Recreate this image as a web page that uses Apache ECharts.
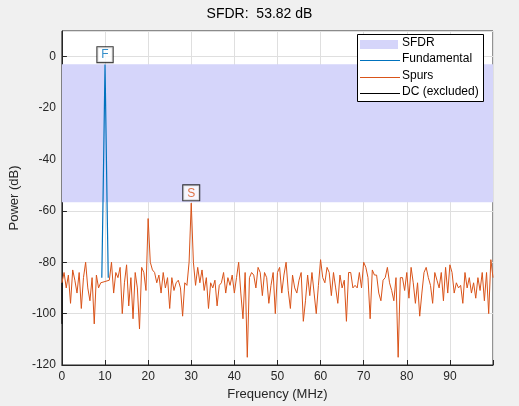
<!DOCTYPE html>
<html>
<head>
<meta charset="UTF-8">
<script src="https://cdn.jsdelivr.net/npm/echarts@6/dist/echarts.min.js"></script>
</head>
<body style="margin:0;background:#f0f0f0">
<div id="main" style="width:519px;height:406px;"></div>
<script>
// spur spectrum, 0.5 MHz bins starting at 0 MHz
var spurStep = 0.5;
var spurPower = [
  -88,-84,-90,-85,-96,-83,-87,-92,-84,-98,-86,-80,-90,-95,-86,-104,-85,-90,-88,-82,
  -84,
  -86,-87,-80,-92,-84,-86,-82,-100,-88,-81,-97,-86,-102,-84,-90,-106,-82,-84,-91,
  -63,-80,-83,-84,-88,-85,-92,-84,-90,-86,-98,-86,-91,-88,-87,-90,-101,-88,-89,-80,
  -57,-80,-89,-82,-88,-83,-91,-86,-98,-88,-90,-87,-97,-89,-88,-84,-92,-86,-89,-85,
  -92,-86,-80,-92,-102,-84,-117,-86,-84,-85,-90,-82,-84,-93,-84,-86,-96,-89,-84,-100,
  -84,-82,-92,-85,-80,-91,-98,-85,-90,-92,-87,-84,-103,-95,-85,-93,-84,-92,-100,-89,
  -79,-86,-88,-82,-84,-93,-84,-90,-96,-85,-90,-87,-103,-84,-84,-90,-89,-90,-84,-90,
  -80,-82,-86,-102,-83,-85,-85,-92,-95,-87,-86,-82,-88,-91,-95,-86,-117,-86,-86,-91,
  -84,-94,-82,-88,-96,-88,-101,-92,-84,-82,-86,-89,-96,-84,-87,-90,-84,-95,-82,-92,
  -81,-84,-92,-88,-90,-89,-96,-84,-90,-86,-92,-88,-94,-86,-91,-84,-95,-84,-100,-79,
  -86
];
var fundFreq = [9.25, 9.5, 10, 10.5, 10.75];
var fundPower = [-86, -60, -3, -60, -86];
var dcFreq = [0, 0];
var dcPower = [-88, -104];
var sfdrTop = -2.9, sfdrBottom = -56.7;
var fMark = [10, -2.9];
var sMark = [30, -56.7];

var spurData = spurPower.map(function (v, i) { return [i * spurStep, v]; });
// leave fundamental bins to the blue trace
spurData = spurData.filter(function (d) { return d[0] < 9.5 || d[0] > 10.5; });
var fundData = fundFreq.map(function (f, i) { return [f, fundPower[i]]; });
var dcData = dcFreq.map(function (f, i) { return [f, dcPower[i]]; });

var ff = 'Liberation Sans, Arial, sans-serif';
function box(t, c) {
  return { show: true, position: 'top', distance: 2, formatter: t, color: c, fontSize: 12, fontFamily: ff,
    backgroundColor: '#fff', borderColor: '#000', borderWidth: 1, padding: [2, 4, 1, 4] };
}

var chart = echarts.init(document.getElementById('main'));
chart.setOption({
  backgroundColor: '#f0f0f0',
  animation: false,
  title: { text: 'SFDR:  53.82 dB', left: 'center', top: 2,
    textStyle: { fontSize: 14, fontWeight: 'normal', color: '#000', fontFamily: ff } },
  grid: { left: 60, right: 26, top: 31, bottom: 40, containLabel: false, show: true, backgroundColor: '#fff', borderColor: '#262626', borderWidth: 1 },
  xAxis: {
    type: 'value', min: 0, max: 100, interval: 10,
    name: 'Frequency (MHz)', nameLocation: 'middle', nameGap: 23,
    nameTextStyle: { fontSize: 13, color: '#262626', fontFamily: ff },
    axisLine: { onZero: false, lineStyle: { color: '#262626' } },
    axisTick: { inside: true, lineStyle: { color: '#262626' } },
    axisLabel: { fontSize: 12, color: '#262626', fontFamily: ff, margin: 6, formatter: function (v) { return v === 100 ? '' : v; } },
    splitLine: { lineStyle: { color: '#dfdfdf' } }
  },
  yAxis: {
    type: 'value', min: -120, max: 10, interval: 20,
    name: 'Power (dB)', nameLocation: 'middle', nameGap: 34,
    nameTextStyle: { fontSize: 13, color: '#262626', fontFamily: ff },
    axisLine: { onZero: false, lineStyle: { color: '#262626' } },
    axisTick: { inside: true, lineStyle: { color: '#262626' } },
    axisLabel: { fontSize: 12, color: '#262626', fontFamily: ff, margin: 6, showMaxLabel: false },
    splitLine: { lineStyle: { color: '#dfdfdf' } }
  },
  series: [
    { type: 'line', name: 'SFDR', data: [], silent: true,
      markArea: { silent: true, itemStyle: { color: '#d5d5fa' }, data: [[{ yAxis: sfdrTop }, { yAxis: sfdrBottom }]] } },
    { type: 'line', name: 'Spurs', data: spurData, showSymbol: false, lineStyle: { color: '#d95319', width: 1 }, z: 3 },
    { type: 'line', name: 'Fundamental', data: fundData, showSymbol: false, lineStyle: { color: '#0072bd', width: 1.2 }, z: 4 },
    { type: 'line', name: 'DC (excluded)', data: dcData, showSymbol: false, lineStyle: { color: '#000', width: 1 }, z: 4 },
    { type: 'scatter', data: [{ value: fMark, label: box('F', '#0072bd') }, { value: sMark, label: box('S', '#d95319') }],
      symbolSize: 0, z: 6 }
  ],
  graphic: [
    { type: 'rect', left: 357, top: 34, shape: { width: 126, height: 67 }, style: { fill: '#fff', stroke: '#000', lineWidth: 1 }, z: 10 },
    { type: 'rect', left: 360, top: 40, shape: { width: 38, height: 9 }, style: { fill: '#d5d5fa' }, z: 11 },
    { type: 'line', shape: { x1: 360, y1: 60.5, x2: 400, y2: 60.5 }, style: { stroke: '#0072bd', lineWidth: 1 }, z: 11 },
    { type: 'line', shape: { x1: 360, y1: 77.5, x2: 400, y2: 77.5 }, style: { stroke: '#d95319', lineWidth: 1 }, z: 11 },
    { type: 'line', shape: { x1: 360, y1: 93.5, x2: 400, y2: 93.5 }, style: { stroke: '#000', lineWidth: 1 }, z: 11 },
    { type: 'text', left: 402, top: 37, style: { text: 'SFDR', fontSize: 12, fontFamily: ff, fill: '#000' }, z: 11 },
    { type: 'text', left: 402, top: 53, style: { text: 'Fundamental', fontSize: 12, fontFamily: ff, fill: '#000' }, z: 11 },
    { type: 'text', left: 402, top: 70, style: { text: 'Spurs', fontSize: 12, fontFamily: ff, fill: '#000' }, z: 11 },
    { type: 'text', left: 402, top: 86, style: { text: 'DC (excluded)', fontSize: 12, fontFamily: ff, fill: '#000' }, z: 11 }
  ]
});
</script>
</body>
</html>
